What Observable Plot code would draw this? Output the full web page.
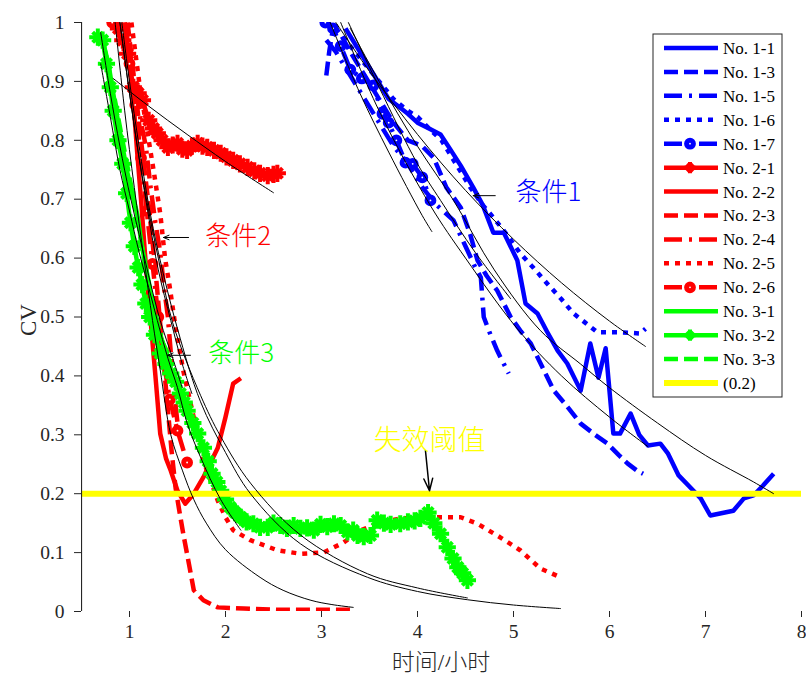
<!DOCTYPE html>
<html><head><meta charset="utf-8">
<script src="https://cdn.jsdelivr.net/npm/d3@7"></script>
<script src="https://cdn.jsdelivr.net/npm/@observablehq/plot@0.6"></script>
<style>
body{margin:0;background:#fff}
#chart{width:806px;height:677px}
</style>
</head><body><div id="chart"></div>
<script>
// ---------------- data ----------------
const xTicks = [1,2,3,4,5,6,7,8];
const yTicks = [0,0.1,0.2,0.3,0.4,0.5,0.6,0.7,0.8,0.9,1];
const xLabel = "时间/小时";
const yLabel = "CV";

const seriesNames = ["No. 1-1","No. 1-3","No. 1-5","No. 1-6","No. 1-7","No. 2-1","No. 2-2","No. 2-3","No. 2-4","No. 2-5","No. 2-6","No. 3-1","No. 3-2","No. 3-3","(0.2)"];

const s11x = [3.25,3.4,3.55,3.7,3.79,3.9,4.0,4.12,4.24,4.34,4.45,4.58,4.68,4.79,4.9,5.04,5.125,5.25,5.35,5.46,5.56,5.7,5.8,5.885,5.96,6.04,6.11,6.22,6.31,6.4,6.53,6.61,6.72,6.875,6.95,7.05,7.29,7.4,7.5,7.6,7.71];
const s11y = [0.99,0.95,0.91,0.87,0.859,0.845,0.83,0.82,0.81,0.785,0.757,0.72,0.69,0.643,0.643,0.596,0.523,0.506,0.475,0.443,0.421,0.375,0.455,0.397,0.447,0.302,0.302,0.336,0.3,0.282,0.285,0.268,0.231,0.205,0.192,0.163,0.171,0.192,0.197,0.214,0.234];

const s13x = [3.05,3.08,3.12,3.2,3.3,3.45,3.6,3.75,3.9,4.05,4.17,4.3,4.45,4.55,4.625,4.72,4.83,4.97,5.08,5.18,5.3,5.42,5.55,5.7,5.85,5.98,6.1,6.19,6.28,6.35];
const s13y = [0.91,0.95,0.99,0.98,0.95,0.91,0.87,0.83,0.8,0.79,0.77,0.72,0.686,0.64,0.596,0.57,0.545,0.5,0.475,0.455,0.415,0.375,0.35,0.319,0.3,0.285,0.265,0.251,0.24,0.234];

const s15x = [3.05,3.15,3.3,3.45,3.6,3.75,3.9,4.05,4.2,4.375,4.5,4.6,4.66,4.69,4.76,4.83,4.9,4.95];
const s15y = [0.97,0.95,0.91,0.87,0.83,0.79,0.76,0.72,0.69,0.664,0.62,0.585,0.567,0.5,0.47,0.443,0.42,0.404];

const s16x = [3.15,3.3,3.45,3.6,3.75,3.9,4.0,4.12,4.25,4.4,4.55,4.68,4.79,4.93,5.07,5.2,5.35,5.5,5.625,5.75,5.875,6.0,6.11,6.22,6.32,6.375];
const s16y = [0.99,0.96,0.93,0.9,0.87,0.85,0.84,0.82,0.8,0.76,0.72,0.69,0.669,0.64,0.608,0.585,0.557,0.53,0.506,0.49,0.474,0.474,0.474,0.473,0.472,0.48];

const s17x = [3.04,3.12,3.2,3.3,3.42,3.54,3.635,3.7,3.78,3.875,3.95,4.05,4.135];
const s17y = [1.0,0.99,0.96,0.92,0.905,0.893,0.845,0.83,0.8,0.762,0.76,0.737,0.698];

const s21x = [0.885,0.93,0.98,1.04,1.09,1.135,1.2,1.25,1.29,1.34,1.4,1.45,1.5,1.55,1.6,1.65,1.71,1.76,1.81,1.88,1.95,2.01,2.08,2.15,2.23,2.3,2.36,2.44,2.5,2.54];
const s21y = [0.99,0.97,0.947,0.89,0.88,0.868,0.834,0.82,0.812,0.8,0.788,0.792,0.795,0.785,0.783,0.79,0.795,0.79,0.788,0.783,0.778,0.772,0.766,0.76,0.754,0.748,0.744,0.74,0.742,0.744];

const s22x = [0.95,1.0,1.04,1.08,1.12,1.16,1.19,1.22,1.27,1.32,1.38,1.43,1.5,1.58,1.67,1.77,1.92,2.0,2.08,2.16];
const s22y = [1.0,0.93,0.868,0.78,0.7,0.61,0.55,0.494,0.4,0.302,0.26,0.239,0.205,0.183,0.2,0.228,0.278,0.33,0.387,0.396];

const s23x = [0.98,1.05,1.12,1.2,1.27,1.33,1.39,1.44,1.48,1.52,1.56,1.62,1.67,1.77,1.92,2.19,2.54,2.9,3.33];
const s23y = [1.0,0.9,0.8,0.69,0.58,0.47,0.36,0.27,0.21,0.17,0.132,0.08,0.036,0.019,0.007,0.005,0.003,0.003,0.003];

const s24x = [0.95,1.05,1.12,1.17,1.22,1.27,1.32,1.36,1.4,1.43,1.46,1.5];
const s24y = [1.0,0.9,0.83,0.79,0.72,0.66,0.61,0.55,0.5,0.44,0.38,0.32];

const s25x = [1.02,1.1,1.18,1.25,1.32,1.37,1.42,1.48,1.56,1.67,1.77,1.85,1.92,2.0,2.08,2.26,2.54,2.78,3.02,3.23,3.41,3.58,3.82,4.17,4.45,4.625,4.86,5.07,5.28,5.49];
const s25y = [1.0,0.9,0.82,0.75,0.676,0.6,0.55,0.482,0.409,0.329,0.256,0.22,0.188,0.16,0.138,0.121,0.104,0.098,0.1,0.117,0.138,0.149,0.158,0.16,0.16,0.149,0.126,0.104,0.073,0.058];

const s26x = [0.82,0.93,1.0,1.06,1.12,1.18,1.24,1.3,1.36,1.42,1.5,1.6];
const s26y = [1.0,0.983,0.93,0.86,0.77,0.68,0.59,0.5,0.42,0.36,0.307,0.253];

const s31x = [0.7,0.78,0.85,0.905,0.97,1.03,1.08,1.13,1.2,1.25,1.29,1.35,1.4];
const s31y = [0.983,0.93,0.86,0.81,0.75,0.71,0.675,0.62,0.56,0.51,0.477,0.455,0.438];

const s32x = [0.67,0.72,0.76,0.8,0.83,0.88,0.93,0.97,1.01,1.05,1.09,1.13,1.17,1.21,1.26,1.32,1.38,1.43,1.48,1.53,1.57,1.6,1.66,1.71,1.77,1.82,1.86,1.91,1.95,2.0,2.05,2.1,2.16,2.22,2.29,2.36,2.44,2.5,2.57,2.64,2.71,2.78,2.85,2.92,2.99,3.06,3.13,3.2,3.27,3.33,3.375,3.44,3.51,3.58,3.65,3.72,3.82,3.9,3.97,4.03,4.11,4.17,4.24,4.31,4.37,4.42,4.47,4.52];
const s32y = [0.975,0.97,0.93,0.89,0.85,0.8,0.76,0.71,0.66,0.62,0.584,0.555,0.523,0.5,0.47,0.438,0.42,0.404,0.39,0.37,0.355,0.341,0.32,0.302,0.278,0.255,0.234,0.22,0.205,0.19,0.177,0.168,0.16,0.152,0.149,0.143,0.143,0.15,0.146,0.141,0.146,0.141,0.142,0.138,0.148,0.144,0.149,0.146,0.135,0.138,0.129,0.127,0.129,0.155,0.15,0.148,0.149,0.152,0.154,0.158,0.168,0.15,0.132,0.109,0.09,0.075,0.065,0.053];

const s33x = [0.72,0.8,0.88,0.95,1.02,1.1,1.18,1.25,1.32,1.38,1.43];
const s33y = [0.97,0.91,0.84,0.78,0.72,0.65,0.57,0.52,0.47,0.44,0.42];

const thrX = [0.5,8];
const thrY = [0.2,0.2];

// fitted curves (thin black)
const fAx = [3.15,3.5,4.0,4.5,5.0,5.5,6.0,6.375];
const fAy = [1.0,0.917,0.81,0.715,0.632,0.558,0.493,0.45];
const fBx = [3.28,3.6,4.0,4.24,4.6,4.97];
const fBy = [1.0,0.89,0.76,0.698,0.61,0.531];
const fCx = [3.2,3.6,4.135,4.5,5.04,5.5,6.0,6.4];
const fCy = [1.0,0.85,0.689,0.6,0.48,0.4,0.33,0.28];
const fDx = [3.3,3.6,4.0,4.375,4.8,5.28,5.7,6.0,6.5,7.0,7.5,7.71];
const fDy = [0.99,0.9,0.79,0.698,0.58,0.477,0.42,0.38,0.32,0.265,0.22,0.2];
const fEx = [3.09,3.4,3.7,4.05,4.15];
const fEy = [1.0,0.88,0.78,0.672,0.645];
const f21x = [0.83,1.2,1.6,2.0,2.5];
const f21y = [0.905,0.858,0.81,0.764,0.711];
const f23x = [0.85,0.95,1.05,1.15,1.24,1.32,1.43,1.55,1.67,1.8,2.0,2.36,2.6,2.89,3.1,3.33];
const f23y = [1.0,0.85,0.72,0.6,0.494,0.41,0.3,0.24,0.19,0.15,0.105,0.058,0.036,0.019,0.012,0.007];
const fPx = [0.9,1.0,1.1,1.2,1.3,1.45,1.74,1.95,2.26,2.78,3.48,4.0,4.52];
const fPy = [1.0,0.88,0.77,0.68,0.6,0.49,0.367,0.297,0.218,0.13,0.064,0.04,0.023];
const fQx = [0.92,1.0,1.1,1.2,1.3,1.5,1.74,2.0,2.26,2.78,3.48,4.0,4.52,5.0,5.49];
const fQy = [1.0,0.9,0.79,0.69,0.61,0.48,0.356,0.27,0.2,0.115,0.058,0.034,0.02,0.011,0.005];
const fG1x = [0.7,0.8,0.9,1.0,1.1,1.2,1.29,1.4,1.5,1.6,1.74,1.95,2.16];
const fG1y = [0.93,0.84,0.75,0.68,0.61,0.55,0.494,0.43,0.38,0.32,0.262,0.19,0.138];
const fG2x = [0.7,0.8,0.9,1.0,1.1,1.2,1.32,1.45,1.55];
const fG2y = [0.983,0.88,0.79,0.71,0.64,0.57,0.494,0.43,0.38];
const fHx = [0.9,1.0,1.1,1.2,1.3,1.43,1.55,1.65];
const fHy = [1.0,0.88,0.77,0.67,0.58,0.494,0.42,0.37];

// annotations
const noteText = ["条件1","条件2","条件3","失效阈值"];
const noteX = [5.02,1.79,1.82,4.125];
const noteY = [0.711,0.637,0.438,0.29];
const noteColor = ["#0000ff","#ff0000","#00ff00","#ffff00"];
const noteSize = [26,26,26,28];
const arrowX1 = [4.81,1.615,1.635,4.083];
const arrowX2 = [4.58,1.354,1.396,4.125];
const arrowY1 = [0.706,0.635,0.435,0.273];
const arrowY2 = [0.706,0.635,0.435,0.205];

// ---------------- styles ----------------
const BLUE="#0000ff", RED="#ff0000", GREEN="#00ff00", YELLOW="#ffff00";
const DASH="14,6", DOT="5,6", DASHDOT="18,7,3,7";
const series = [
  {x:s11x,y:s11y,c:BLUE,d:null},
  {x:s13x,y:s13y,c:BLUE,d:DASH},
  {x:s15x,y:s15y,c:BLUE,d:DASHDOT},
  {x:s16x,y:s16y,c:BLUE,d:DOT},
  {x:s17x,y:s17y,c:BLUE,d:DASHDOT,m:"o"},
  {x:s21x,y:s21y,c:RED,d:null,m:"*"},
  {x:s22x,y:s22y,c:RED,d:null},
  {x:s23x,y:s23y,c:RED,d:DASH},
  {x:s24x,y:s24y,c:RED,d:DASHDOT},
  {x:s25x,y:s25y,c:RED,d:DOT},
  {x:s26x,y:s26y,c:RED,d:DASHDOT,m:"o"},
  {x:s31x,y:s31y,c:GREEN,d:null},
  {x:s32x,y:s32y,c:GREEN,d:null,m:"*"},
  {x:s33x,y:s33y,c:GREEN,d:DASH},
  {x:thrX,y:thrY,c:YELLOW,d:null,w:6}
];
series.forEach((s,i)=>{s.name=seriesNames[i]; s.data=s.x.map((v,j)=>({x:v,y:s.y[j]}));});
const fits = [[fAx,fAy],[fBx,fBy],[fCx,fCy],[fDx,fDy],[fEx,fEy],[f21x,f21y],[f23x,f23y],[fPx,fPy],[fQx,fQy],[fG1x,fG1y],[fG2x,fG2y],[fHx,fHy]]
  .map(([xs,ys])=>xs.map((v,j)=>({x:v,y:ys[j]})));
const notes = noteText.map((t,i)=>({t,x:noteX[i],y:noteY[i],c:noteColor[i],s:noteSize[i]}));
const arrows = arrowX1.map((v,i)=>({x1:v,x2:arrowX2[i],y1:arrowY1[i],y2:arrowY2[i],big:i===3}));

const AX="#262626";
const STAR_R=5.6, STAR_W=4;
const CIRC_R=3.4, CIRC_W=5;
const marks = [];
series.filter(s=>s.c!==YELLOW).forEach(s=>{
  marks.push(Plot.line(s.data,{x:"x",y:"y",stroke:s.c,strokeWidth:s.w||4.5,strokeDasharray:s.d||undefined,strokeLinecap:"butt",strokeLinejoin:"round"}));
  if(s.m==="o") marks.push(Plot.dot(s.data,{x:"x",y:"y",r:CIRC_R,stroke:s.c,strokeWidth:CIRC_W,fill:"white"}));
  if(s.m==="*"){
    marks.push(Plot.dot(s.data,{x:"x",y:"y",r:STAR_R,symbol:"plus",stroke:s.c,strokeWidth:STAR_W}));
    marks.push(Plot.dot(s.data,{x:"x",y:"y",r:STAR_R*0.85,symbol:"times",stroke:s.c,strokeWidth:STAR_W}));
  }
});
const thr = series[series.length-1];
marks.push(Plot.line(thr.data,{x:"x",y:"y",stroke:YELLOW,strokeWidth:6}));
fits.forEach(f=>marks.push(Plot.line(f,{x:"x",y:"y",stroke:"black",strokeWidth:1,curve:"catmull-rom"})));
marks.push(Plot.arrow(arrows.filter(a=>!a.big),{x1:"x1",y1:"y1",x2:"x2",y2:"y2",stroke:"black",strokeWidth:1,headLength:9,headAngle:45}));
marks.push(Plot.arrow(arrows.filter(a=>a.big),{x1:"x1",y1:"y1",x2:"x2",y2:"y2",stroke:"black",strokeWidth:1.5,headLength:13,headAngle:40}));
notes.forEach(n=>{
  marks.push(Plot.text([n],{x:"x",y:"y",text:"t",fill:n.c,textAnchor:n.t.length>3?"middle":"start",fontSize:n.s,fontFamily:"'Noto Sans CJK SC', sans-serif",fontWeight:300}));
});
marks.push(Plot.ruleX([0.5],{stroke:AX,strokeWidth:1.2}));
marks.push(Plot.ruleY([0],{stroke:AX,strokeWidth:1.2}));
marks.push(Plot.axisX({ticks:xTicks,tickSize:6,tickPadding:7,label:null,stroke:AX,fill:AX,tickFormat:d=>String(d)}));
marks.push(Plot.axisY({ticks:yTicks,tickSize:7,tickPadding:10,label:null,stroke:AX,fill:AX,tickFormat:d=>String(+d.toFixed(1))}));

const chart = Plot.plot({
  width:806, height:677,
  marginLeft:81, marginRight:5, marginTop:22, marginBottom:66,
  x:{domain:[0.5,8]},
  y:{domain:[0,1]},
  clip:true,
  style:{fontFamily:"'Liberation Serif', serif", fontSize:"19.5px", background:"white", overflow:"visible"},
  marks
});
document.getElementById("chart").appendChild(chart);

// axis labels and legend
const svg = d3.select(chart);
svg.append("text").attr("transform","translate(28,320) rotate(-90)").attr("text-anchor","middle").attr("dy","0.35em")
  .attr("font-family","'Liberation Serif', serif").attr("font-size",23).attr("fill",AX).text(yLabel);
svg.append("text").attr("x",441).attr("y",662).attr("text-anchor","middle").attr("dy","0.35em")
  .attr("font-family","'Liberation Serif','Noto Sans CJK SC', serif").attr("font-size",23).attr("fill",AX).attr("font-weight",300).text(xLabel);

const lg = svg.append("g");
lg.append("rect").attr("x",653).attr("y",34).attr("width",129).attr("height",363).attr("fill","white").attr("stroke",AX).attr("stroke-width",1);
series.forEach((s,i)=>{
  const y = 48 + i*23.93;
  lg.append("line").attr("x1",664).attr("x2",718).attr("y1",y).attr("y2",y)
    .attr("stroke",s.c).attr("stroke-width",s.w||4.5).attr("stroke-dasharray",s.d||null).attr("stroke-linecap","butt");
  if(s.m==="o") lg.append("circle").attr("cx",690).attr("cy",y).attr("r",CIRC_R).attr("fill","white").attr("stroke",s.c).attr("stroke-width",CIRC_W);
  if(s.m==="*"){
    const r=STAR_R, q=STAR_R*0.85*0.707;
    lg.append("path").attr("d",`M${690-r},${y}H${690+r}M690,${y-r}V${y+r}M${690-q},${y-q}L${690+q},${y+q}M${690-q},${y+q}L${690+q},${y-q}`)
      .attr("stroke",s.c).attr("stroke-width",STAR_W).attr("fill","none");
  }
  lg.append("text").attr("x",723).attr("y",y).attr("dy","0.35em").attr("text-anchor","start").attr("font-family","'Liberation Serif', serif")
    .attr("font-size",17).attr("fill","#000").text(s.name);
});
</script>
</body></html>
